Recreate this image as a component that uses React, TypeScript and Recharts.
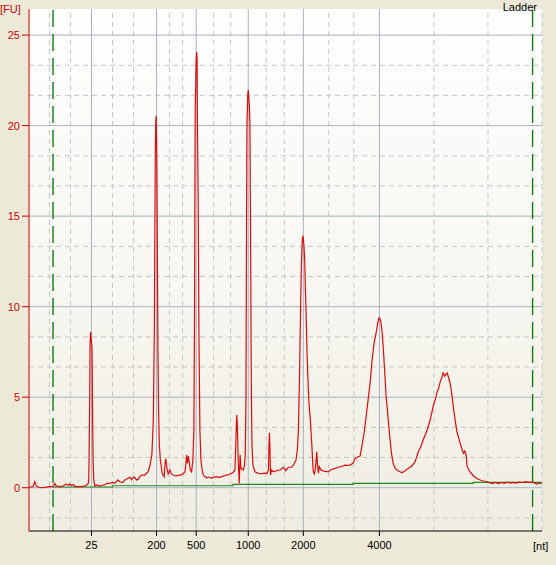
import React from 'react';
import { LineChart, Line, XAxis, YAxis, ReferenceLine } from 'recharts';

// migration time (s) -> fluorescence (FU)
const trace: [number, number][] = [
  [18.95, 0.02], [19.1, 0.04], [19.33, 0.06], [19.5, 0.33], [19.67, 0.09], [20.0, 0.0],
  [20.5, 0.02], [21.0, 0.06], [21.33, 0.06], [21.5, 0.24], [21.67, 0.09], [22.17, 0.06],
  [22.4, 0.12], [22.6, 0.2], [22.83, 0.15], [23.0, 0.2], [23.15, 0.12], [23.33, 0.18],
  [23.5, 0.09], [23.67, 0.06], [24.17, 0.06], [24.5, 0.09], [24.67, 0.15], [24.83, 0.2],
  [24.9, 0.43], [24.95, 2.64], [24.98, 4.02], [25.03, 7.88], [25.08, 8.6], [25.13, 8.27],
  [25.18, 7.99], [25.23, 7.6], [25.28, 4.02], [25.33, 1.53], [25.4, 0.43], [25.5, 0.09],
  [25.67, 0.15], [26.0, 0.09], [26.3, 0.15], [26.5, 0.15], [26.7, 0.24], [27.0, 0.24],
  [27.3, 0.29], [27.5, 0.24], [27.8, 0.43], [28.0, 0.33], [28.3, 0.28], [28.5, 0.43],
  [28.83, 0.52], [29.0, 0.59], [29.17, 0.43], [29.33, 0.57], [29.5, 0.57], [29.67, 0.43],
  [29.83, 0.46], [30.0, 0.61], [30.17, 0.7], [30.5, 0.7], [30.67, 0.8], [30.83, 0.88],
  [31.0, 1.2], [31.2, 1.81], [31.35, 3.74], [31.45, 8.71], [31.5, 14.24], [31.55, 18.66],
  [31.6, 20.31], [31.64, 20.54], [31.7, 18.1], [31.75, 13.13], [31.8, 8.16], [31.87, 4.29],
  [31.95, 2.36], [32.05, 1.53], [32.23, 0.8], [32.43, 0.61], [32.53, 1.42], [32.6, 1.59],
  [32.7, 1.09], [32.83, 0.76], [33.0, 0.98], [33.15, 0.76], [33.33, 0.7], [33.6, 0.65],
  [34.0, 0.7], [34.3, 0.76], [34.5, 0.87], [34.62, 1.42], [34.67, 1.81], [34.75, 1.36],
  [34.85, 1.75], [34.95, 1.36], [35.05, 0.98], [35.17, 0.88], [35.3, 1.53], [35.4, 3.19],
  [35.47, 10.37], [35.5, 15.88], [35.53, 20.86], [35.63, 23.63], [35.67, 24.06], [35.72, 23.63],
  [35.75, 20.43], [35.83, 15.88], [35.9, 8.71], [36.0, 3.19], [36.1, 1.53], [36.25, 0.87],
  [36.4, 0.65], [36.67, 0.55], [36.9, 0.59], [37.17, 0.52], [37.4, 0.59], [37.67, 0.61],
  [37.9, 0.56], [38.17, 0.61], [38.4, 0.65], [38.67, 0.7], [38.9, 0.73], [39.17, 0.8],
  [39.35, 0.87], [39.5, 0.98], [39.6, 2.64], [39.67, 4.02], [39.73, 3.57], [39.8, 2.08],
  [39.87, 0.98], [39.93, 0.24], [40.02, 1.81], [40.1, 1.07], [40.33, 0.98], [40.45, 1.2],
  [40.53, 1.81], [40.6, 4.85], [40.65, 13.13], [40.7, 19.93], [40.78, 21.69], [40.83, 21.97],
  [40.9, 21.42], [40.95, 21.04], [41.0, 19.93], [41.07, 13.13], [41.13, 5.95], [41.2, 2.36],
  [41.3, 1.25], [41.5, 0.88], [41.8, 0.81], [42.1, 0.76], [42.4, 0.81], [42.7, 0.78],
  [42.85, 0.98], [42.9, 2.36], [42.95, 3.04], [43.0, 2.08], [43.05, 0.7], [43.15, 0.98],
  [43.33, 0.88], [43.67, 0.94], [44.0, 0.98], [44.33, 1.13], [44.57, 0.94], [44.83, 1.13],
  [45.17, 1.13], [45.4, 1.31], [45.6, 1.53], [45.73, 2.08], [45.83, 3.02], [45.95, 6.12],
  [46.06, 10.0], [46.13, 12.21], [46.23, 13.69], [46.3, 13.91], [46.4, 13.31], [46.47, 12.49],
  [46.53, 11.1], [46.6, 9.82], [46.7, 7.44], [46.83, 5.4], [46.93, 4.4], [47.03, 3.74],
  [47.17, 2.47], [47.27, 1.36], [47.33, 0.88], [47.45, 0.76], [47.57, 1.25], [47.67, 1.99],
  [47.73, 1.42], [47.83, 0.81], [47.93, 1.16], [48.1, 0.98], [48.4, 0.92], [48.83, 0.88],
  [49.1, 1.01], [49.3, 1.03], [49.6, 1.09], [50.0, 1.16], [50.3, 1.2], [50.5, 1.25],
  [50.8, 1.23], [51.0, 1.25], [51.3, 1.35], [51.5, 1.62], [51.75, 1.7], [52.0, 1.75],
  [52.17, 2.27], [52.4, 3.01], [52.6, 3.92], [52.8, 4.85], [53.0, 5.78], [53.2, 7.06],
  [53.4, 7.99], [53.6, 8.55], [53.73, 8.99], [53.87, 9.36], [53.95, 9.38], [54.07, 9.17],
  [54.2, 8.62], [54.33, 7.61], [54.47, 6.32], [54.6, 5.03], [54.73, 4.29], [54.87, 3.37],
  [55.0, 2.64], [55.13, 1.92], [55.3, 1.35], [55.5, 1.07], [55.8, 0.94], [56.17, 0.83],
  [56.5, 0.94], [56.83, 1.07], [57.17, 1.2], [57.5, 1.44], [57.8, 1.97], [58.0, 2.18],
  [58.3, 2.64], [58.5, 2.91], [58.7, 3.19], [59.0, 3.74], [59.33, 4.57], [59.5, 4.85],
  [59.7, 5.29], [59.85, 5.51], [60.0, 5.84], [60.15, 6.06], [60.3, 6.34], [60.45, 6.17],
  [60.6, 6.28], [60.7, 6.34], [60.85, 6.06], [61.0, 5.73], [61.13, 5.29], [61.23, 4.85],
  [61.35, 4.29], [61.5, 3.74], [61.67, 3.09], [61.85, 2.75], [62.0, 2.45], [62.2, 2.08],
  [62.33, 1.9], [62.45, 2.03], [62.6, 1.81], [62.67, 1.25], [62.8, 1.03], [63.0, 0.88],
  [63.33, 0.65], [63.65, 0.51], [64.0, 0.43], [64.3, 0.37], [64.67, 0.33], [64.9, 0.29],
  [65.2, 0.23], [65.5, 0.29], [65.8, 0.23], [66.1, 0.29], [66.4, 0.24], [66.7, 0.31],
  [67.0, 0.26], [67.3, 0.3], [67.6, 0.26], [67.9, 0.31], [68.2, 0.29], [68.5, 0.34],
  [68.8, 0.3], [69.1, 0.31], [69.4, 0.26], [69.65, 0.2], [69.85, 0.26], [70.1, 0.23],
];

// stepped baseline (green)
const baseTime = [21.33, 27.27, 39.3, 51.3, 63.3, 70.17];
const baseFU = [0.04, 0.11, 0.19, 0.24, 0.3, 0.3];

// ladder sizes and where they sit on the time axis
const ladderSizes = ['25', '200', '500', '1000', '2000', '4000'];
const ladderTimes = [25.17, 31.67, 35.63, 40.83, 46.33, 53.93];
const minorTimes = [20.97, 23.07, 27.27, 29.37, 32.97, 34.27, 37.37, 39.07, 42.63, 44.43, 48.87, 51.37, 59.37, 64.77, 70.17];
const markerTimes = [21.33, 69.23];

const yTicks = [0, 5, 10, 15, 20, 25];
const yMinor = [-1.67, 1.67, 3.33, 6.67, 8.33, 11.67, 13.33, 16.67, 18.33, 21.67, 23.33];

const xDomain: [number, number] = [18.93, 70.17];
const yDomain: [number, number] = [-2.39, 26.44];

const font = '"Liberation Sans", Arial, sans-serif';
const gridSolid = '#a9b1c0';
const gridDash = '#c6c6c6';

const traceData = trace.map(([t, fu]) => ({ t, fu }));
const baseData = baseTime.map((t, i) => ({ t, fu: baseFU[i] }));

export default function App() {
  return (
    <div style={{ position: 'absolute', left: 0, top: 0, width: 556, height: 565, background: '#ece9d8', fontFamily: font }}>
      <div
        style={{
          position: 'absolute', left: 29, top: 9, width: 513, height: 522,
          background: 'linear-gradient(to bottom, #fefefe 0%, #f8f7f2 50%, #efede2 100%)',
        }}
      />
      <div style={{ position: 'absolute', left: 0, top: 0 }}>
        <LineChart width={556} height={565} margin={{ top: 9, right: 14, bottom: 0, left: 0 }}>
          <XAxis
            type="number"
            dataKey="t"
            domain={xDomain}
            allowDataOverflow
            ticks={ladderTimes}
            interval={0}
            tickFormatter={(v: number) => ladderSizes[ladderTimes.indexOf(v)] ?? ''}
            height={34}
            tickSize={5}
            tickMargin={5}
            stroke="#000"
            tick={{ fill: '#000', fontSize: 11, fontFamily: font }}
          />
          <YAxis
            type="number"
            domain={yDomain}
            allowDataOverflow
            ticks={yTicks}
            interval={0}
            width={29}
            tickSize={7}
            tickMargin={2}
            stroke="#cc0000"
            tick={{ fill: '#cc0000', fontSize: 11, fontFamily: font }}
          />
          {yMinor.map((v) => (
            <ReferenceLine key={'ym' + v} y={v} stroke={gridDash} strokeDasharray="5 4" />
          ))}
          {minorTimes.map((v) => (
            <ReferenceLine key={'xm' + v} x={v} stroke={gridDash} strokeDasharray="5 4" />
          ))}
          {yTicks.map((v) => (
            <ReferenceLine key={'yM' + v} y={v} stroke={gridSolid} />
          ))}
          {ladderTimes.map((v) => (
            <ReferenceLine key={'xM' + v} x={v} stroke={gridSolid} />
          ))}
          {markerTimes.map((v) => (
            <ReferenceLine key={'mk' + v} x={v} stroke="#137a13" strokeWidth={1.4} strokeDasharray="17 7" />
          ))}
          <Line
            data={baseData}
            dataKey="fu"
            type="stepAfter"
            stroke="#1d8a1d"
            strokeWidth={1.2}
            dot={false}
            isAnimationActive={false}
          />
          <Line
            data={traceData}
            dataKey="fu"
            type="linear"
            stroke="#dd0c0c"
            strokeWidth={1.2}
            dot={false}
            isAnimationActive={false}
          />
        </LineChart>
      </div>
      <svg width={556} height={565} style={{ position: 'absolute', left: 0, top: 0, pointerEvents: 'none' }}>
        <text x={0} y={13} fill="#cc0000" fontSize={11} fontFamily={font}>[FU]</text>
        <text x={537} y={11} fill="#000" fontSize={11} fontFamily={font} textAnchor="end">Ladder</text>
        <text x={533} y={550} fill="#000" fontSize={11} fontFamily={font}>[nt]</text>
      </svg>
    </div>
  );
}
